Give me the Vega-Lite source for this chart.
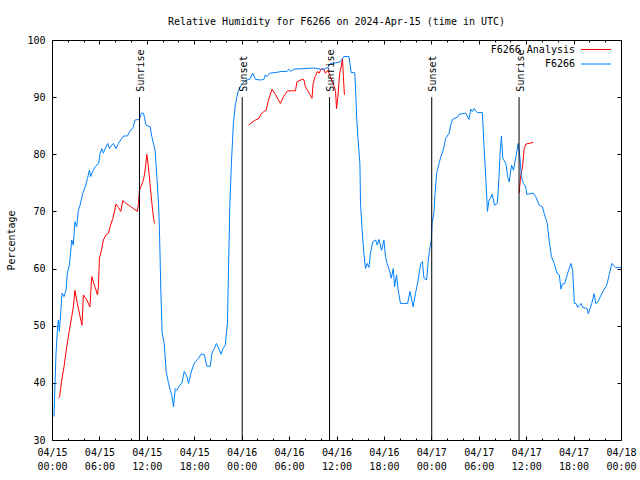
{
  "$schema": "https://vega.github.io/schema/vega-lite/v6.json",
  "width": 569,
  "height": 400,
  "autosize": {"type": "none"},
  "padding": {"left": 52, "top": 40, "right": 19, "bottom": 40},
  "background": "white",
  "title": {"text": "Relative Humidity for F6266 on 2024-Apr-15 (time in UTC)", "font": "DejaVu Sans Mono", "fontSize": 10, "fontWeight": "normal", "color": "black", "offset": 8, "anchor": "middle"},
  "config": {
    "view": {"stroke": "black", "strokeWidth": 1},
    "axis": {"labelFont": "DejaVu Sans Mono", "labelFontSize": 10, "labelColor": "black", "tickColor": "black", "tickWidth": 1, "domain": false, "grid": false, "titleFont": "DejaVu Sans Mono", "titleFontSize": 10, "titleFontWeight": "normal", "titleColor": "black"}
  },
  "datasets": {
    "obs": [
      {"s":"F6266 Analysis","g":"r1","h":0.8,"v":37.3},{"s":"F6266 Analysis","g":"r1","h":0.97,"v":37.6},{"s":"F6266 Analysis","g":"r1","h":1.23,"v":40.5},{"s":"F6266 Analysis","g":"r1","h":1.52,"v":42.8},{"s":"F6266 Analysis","g":"r1","h":1.86,"v":46.3},{"s":"F6266 Analysis","g":"r1","h":2.2,"v":49.2},{"s":"F6266 Analysis","g":"r1","h":2.5,"v":51.6},{"s":"F6266 Analysis","g":"r1","h":2.7,"v":53.3},{"s":"F6266 Analysis","g":"r1","h":2.9,"v":56.2},{"s":"F6266 Analysis","g":"r1","h":3.2,"v":53.9},{"s":"F6266 Analysis","g":"r1","h":3.55,"v":51.6},{"s":"F6266 Analysis","g":"r1","h":3.8,"v":50.1},{"s":"F6266 Analysis","g":"r1","h":3.97,"v":55.4},{"s":"F6266 Analysis","g":"r1","h":4.4,"v":54.5},{"s":"F6266 Analysis","g":"r1","h":4.8,"v":53.3},{"s":"F6266 Analysis","g":"r1","h":5.03,"v":58.6},{"s":"F6266 Analysis","g":"r1","h":5.3,"v":57.4},{"s":"F6266 Analysis","g":"r1","h":5.58,"v":56.2},{"s":"F6266 Analysis","g":"r1","h":5.75,"v":55.4},{"s":"F6266 Analysis","g":"r1","h":5.87,"v":56.8},{"s":"F6266 Analysis","g":"r1","h":6.0,"v":61.8},{"s":"F6266 Analysis","g":"r1","h":6.3,"v":63.5},{"s":"F6266 Analysis","g":"r1","h":6.5,"v":65.0},{"s":"F6266 Analysis","g":"r1","h":6.84,"v":65.9},{"s":"F6266 Analysis","g":"r1","h":7.14,"v":66.2},{"s":"F6266 Analysis","g":"r1","h":7.35,"v":67.3},{"s":"F6266 Analysis","g":"r1","h":7.7,"v":68.8},{"s":"F6266 Analysis","g":"r1","h":7.86,"v":69.7},{"s":"F6266 Analysis","g":"r1","h":8.1,"v":71.3},{"s":"F6266 Analysis","g":"r1","h":8.4,"v":70.7},{"s":"F6266 Analysis","g":"r1","h":8.7,"v":70.0},{"s":"F6266 Analysis","g":"r1","h":8.96,"v":71.9},{"s":"F6266 Analysis","g":"r1","h":9.4,"v":71.4},{"s":"F6266 Analysis","g":"r1","h":9.9,"v":70.9},{"s":"F6266 Analysis","g":"r1","h":10.3,"v":70.5},{"s":"F6266 Analysis","g":"r1","h":10.8,"v":70.0},{"s":"F6266 Analysis","g":"r1","h":10.94,"v":71.4},{"s":"F6266 Analysis","g":"r1","h":11.07,"v":73.7},{"s":"F6266 Analysis","g":"r1","h":11.24,"v":74.3},{"s":"F6266 Analysis","g":"r1","h":11.5,"v":75.2},{"s":"F6266 Analysis","g":"r1","h":11.66,"v":76.1},{"s":"F6266 Analysis","g":"r1","h":11.83,"v":77.8},{"s":"F6266 Analysis","g":"r1","h":12.0,"v":80.0},{"s":"F6266 Analysis","g":"r1","h":12.2,"v":77.8},{"s":"F6266 Analysis","g":"r1","h":12.4,"v":74.9},{"s":"F6266 Analysis","g":"r1","h":12.64,"v":71.4},{"s":"F6266 Analysis","g":"r1","h":12.85,"v":68.8},{"s":"F6266 Analysis","g":"r1","h":12.97,"v":67.9},
      {"s":"F6266 Analysis","g":"r2","h":24.9,"v":85.1},{"s":"F6266 Analysis","g":"r2","h":25.3,"v":85.6},{"s":"F6266 Analysis","g":"r2","h":25.75,"v":86.0},{"s":"F6266 Analysis","g":"r2","h":26.2,"v":86.3},{"s":"F6266 Analysis","g":"r2","h":26.4,"v":86.9},{"s":"F6266 Analysis","g":"r2","h":26.8,"v":87.5},{"s":"F6266 Analysis","g":"r2","h":27.1,"v":87.7},{"s":"F6266 Analysis","g":"r2","h":27.4,"v":89.5},{"s":"F6266 Analysis","g":"r2","h":27.85,"v":91.4},{"s":"F6266 Analysis","g":"r2","h":28.3,"v":90.4},{"s":"F6266 Analysis","g":"r2","h":28.9,"v":88.9},{"s":"F6266 Analysis","g":"r2","h":29.3,"v":90.1},{"s":"F6266 Analysis","g":"r2","h":29.8,"v":91.1},{"s":"F6266 Analysis","g":"r2","h":30.8,"v":91.1},{"s":"F6266 Analysis","g":"r2","h":31.0,"v":92.7},{"s":"F6266 Analysis","g":"r2","h":31.65,"v":93.1},{"s":"F6266 Analysis","g":"r2","h":31.86,"v":93.1},{"s":"F6266 Analysis","g":"r2","h":32.07,"v":91.8},{"s":"F6266 Analysis","g":"r2","h":32.37,"v":91.1},{"s":"F6266 Analysis","g":"r2","h":32.6,"v":90.5},{"s":"F6266 Analysis","g":"r2","h":32.9,"v":89.8},{"s":"F6266 Analysis","g":"r2","h":33.04,"v":92.4},{"s":"F6266 Analysis","g":"r2","h":33.3,"v":93.6},{"s":"F6266 Analysis","g":"r2","h":33.6,"v":94.5},{"s":"F6266 Analysis","g":"r2","h":33.8,"v":94.2},{"s":"F6266 Analysis","g":"r2","h":34.05,"v":94.9},{"s":"F6266 Analysis","g":"r2","h":34.4,"v":94.9},{"s":"F6266 Analysis","g":"r2","h":34.6,"v":94.2},{"s":"F6266 Analysis","g":"r2","h":34.9,"v":94.7},{"s":"F6266 Analysis","g":"r2","h":35.24,"v":93.6},{"s":"F6266 Analysis","g":"r2","h":35.45,"v":92.7},{"s":"F6266 Analysis","g":"r2","h":35.66,"v":92.1},{"s":"F6266 Analysis","g":"r2","h":35.88,"v":91.0},{"s":"F6266 Analysis","g":"r2","h":36.0,"v":88.0},{"s":"F6266 Analysis","g":"r2","h":36.18,"v":90.1},{"s":"F6266 Analysis","g":"r2","h":36.4,"v":94.2},{"s":"F6266 Analysis","g":"r2","h":36.6,"v":95.3},{"s":"F6266 Analysis","g":"r2","h":36.76,"v":96.8},{"s":"F6266 Analysis","g":"r2","h":36.87,"v":93.6},{"s":"F6266 Analysis","g":"r2","h":37.0,"v":90.4},
      {"s":"F6266 Analysis","g":"r3","h":59.1,"v":73.2},{"s":"F6266 Analysis","g":"r3","h":59.33,"v":76.4},{"s":"F6266 Analysis","g":"r3","h":59.54,"v":77.8},{"s":"F6266 Analysis","g":"r3","h":59.75,"v":81.0},{"s":"F6266 Analysis","g":"r3","h":59.96,"v":81.8},{"s":"F6266 Analysis","g":"r3","h":60.38,"v":81.9},{"s":"F6266 Analysis","g":"r3","h":60.9,"v":82.1},
      {"s":"F6266","g":"b","h":0.25,"v":34.1},{"s":"F6266","g":"b","h":0.5,"v":44.9},{"s":"F6266","g":"b","h":0.68,"v":49.2},{"s":"F6266","g":"b","h":0.8,"v":51.0},{"s":"F6266","g":"b","h":0.93,"v":49.0},{"s":"F6266","g":"b","h":1.1,"v":52.2},{"s":"F6266","g":"b","h":1.27,"v":55.7},{"s":"F6266","g":"b","h":1.52,"v":55.1},{"s":"F6266","g":"b","h":1.77,"v":56.2},{"s":"F6266","g":"b","h":1.94,"v":59.2},{"s":"F6266","g":"b","h":2.2,"v":60.6},{"s":"F6266","g":"b","h":2.5,"v":65.0},{"s":"F6266","g":"b","h":2.7,"v":64.1},{"s":"F6266","g":"b","h":2.9,"v":68.2},{"s":"F6266","g":"b","h":3.13,"v":67.3},{"s":"F6266","g":"b","h":3.34,"v":70.2},{"s":"F6266","g":"b","h":3.55,"v":71.1},{"s":"F6266","g":"b","h":3.9,"v":73.2},{"s":"F6266","g":"b","h":4.2,"v":74.3},{"s":"F6266","g":"b","h":4.5,"v":75.8},{"s":"F6266","g":"b","h":4.73,"v":77.2},{"s":"F6266","g":"b","h":4.9,"v":76.1},{"s":"F6266","g":"b","h":5.15,"v":77.0},{"s":"F6266","g":"b","h":5.45,"v":77.8},{"s":"F6266","g":"b","h":5.9,"v":78.4},{"s":"F6266","g":"b","h":6.1,"v":80.2},{"s":"F6266","g":"b","h":6.3,"v":81.0},{"s":"F6266","g":"b","h":6.5,"v":80.2},{"s":"F6266","g":"b","h":6.72,"v":81.0},{"s":"F6266","g":"b","h":7.05,"v":81.9},{"s":"F6266","g":"b","h":7.27,"v":81.0},{"s":"F6266","g":"b","h":7.56,"v":81.6},{"s":"F6266","g":"b","h":7.77,"v":81.9},{"s":"F6266","g":"b","h":8.1,"v":81.0},{"s":"F6266","g":"b","h":8.41,"v":81.9},{"s":"F6266","g":"b","h":8.83,"v":82.8},{"s":"F6266","g":"b","h":9.04,"v":83.2},{"s":"F6266","g":"b","h":9.55,"v":83.2},{"s":"F6266","g":"b","h":9.9,"v":84.2},{"s":"F6266","g":"b","h":10.22,"v":84.5},{"s":"F6266","g":"b","h":10.5,"v":86.0},{"s":"F6266","g":"b","h":11.07,"v":86.1},{"s":"F6266","g":"b","h":11.3,"v":87.2},{"s":"F6266","g":"b","h":11.58,"v":87.2},{"s":"F6266","g":"b","h":11.9,"v":85.1},{"s":"F6266","g":"b","h":12.42,"v":84.8},{"s":"F6266","g":"b","h":12.63,"v":83.1},{"s":"F6266","g":"b","h":13.05,"v":80.7},{"s":"F6266","g":"b","h":13.27,"v":76.1},{"s":"F6266","g":"b","h":13.48,"v":71.4},{"s":"F6266","g":"b","h":13.6,"v":66.7},{"s":"F6266","g":"b","h":13.77,"v":56.2},{"s":"F6266","g":"b","h":13.94,"v":48.7},{"s":"F6266","g":"b","h":14.2,"v":46.9},{"s":"F6266","g":"b","h":14.45,"v":42.0},{"s":"F6266","g":"b","h":14.75,"v":39.9},{"s":"F6266","g":"b","h":14.96,"v":38.7},{"s":"F6266","g":"b","h":15.17,"v":37.8},{"s":"F6266","g":"b","h":15.38,"v":35.8},{"s":"F6266","g":"b","h":15.59,"v":39.0},{"s":"F6266","g":"b","h":15.8,"v":38.7},{"s":"F6266","g":"b","h":16.14,"v":39.6},{"s":"F6266","g":"b","h":16.43,"v":39.9},{"s":"F6266","g":"b","h":16.73,"v":42.0},{"s":"F6266","g":"b","h":17.07,"v":41.1},{"s":"F6266","g":"b","h":17.28,"v":39.9},{"s":"F6266","g":"b","h":17.58,"v":41.7},{"s":"F6266","g":"b","h":17.83,"v":42.8},{"s":"F6266","g":"b","h":18.12,"v":43.7},{"s":"F6266","g":"b","h":18.55,"v":44.3},{"s":"F6266","g":"b","h":18.84,"v":45.0},{"s":"F6266","g":"b","h":19.26,"v":45.0},{"s":"F6266","g":"b","h":19.6,"v":42.9},{"s":"F6266","g":"b","h":20.02,"v":42.9},{"s":"F6266","g":"b","h":20.24,"v":45.2},{"s":"F6266","g":"b","h":20.53,"v":46.0},{"s":"F6266","g":"b","h":20.8,"v":46.9},{"s":"F6266","g":"b","h":21.1,"v":46.0},{"s":"F6266","g":"b","h":21.4,"v":45.0},{"s":"F6266","g":"b","h":21.63,"v":46.0},{"s":"F6266","g":"b","h":21.93,"v":46.6},{"s":"F6266","g":"b","h":22.1,"v":49.2},{"s":"F6266","g":"b","h":22.2,"v":50.4},{"s":"F6266","g":"b","h":22.35,"v":60.9},{"s":"F6266","g":"b","h":22.5,"v":70.8},{"s":"F6266","g":"b","h":22.7,"v":78.4},{"s":"F6266","g":"b","h":22.95,"v":85.4},{"s":"F6266","g":"b","h":23.2,"v":88.6},{"s":"F6266","g":"b","h":23.4,"v":90.1},{"s":"F6266","g":"b","h":23.6,"v":91.2},{"s":"F6266","g":"b","h":23.83,"v":91.8},{"s":"F6266","g":"b","h":24.1,"v":92.4},{"s":"F6266","g":"b","h":24.6,"v":93.0},{"s":"F6266","g":"b","h":25.0,"v":93.1},{"s":"F6266","g":"b","h":25.4,"v":94.2},{"s":"F6266","g":"b","h":25.75,"v":93.1},{"s":"F6266","g":"b","h":26.4,"v":93.0},{"s":"F6266","g":"b","h":26.8,"v":93.1},{"s":"F6266","g":"b","h":27.0,"v":93.9},{"s":"F6266","g":"b","h":27.2,"v":93.6},{"s":"F6266","g":"b","h":27.55,"v":94.2},{"s":"F6266","g":"b","h":28.25,"v":94.3},{"s":"F6266","g":"b","h":29.1,"v":94.5},{"s":"F6266","g":"b","h":29.75,"v":94.5},{"s":"F6266","g":"b","h":29.96,"v":94.9},{"s":"F6266","g":"b","h":30.2,"v":94.5},{"s":"F6266","g":"b","h":30.6,"v":94.9},{"s":"F6266","g":"b","h":31.86,"v":95.0},{"s":"F6266","g":"b","h":33.1,"v":95.1},{"s":"F6266","g":"b","h":33.97,"v":94.9},{"s":"F6266","g":"b","h":34.4,"v":94.9},{"s":"F6266","g":"b","h":34.9,"v":95.2},{"s":"F6266","g":"b","h":35.24,"v":95.9},{"s":"F6266","g":"b","h":35.88,"v":96.0},{"s":"F6266","g":"b","h":36.5,"v":96.2},{"s":"F6266","g":"b","h":36.93,"v":97.1},{"s":"F6266","g":"b","h":37.57,"v":97.1},{"s":"F6266","g":"b","h":37.86,"v":94.3},{"s":"F6266","g":"b","h":38.3,"v":94.3},{"s":"F6266","g":"b","h":38.4,"v":91.8},{"s":"F6266","g":"b","h":38.55,"v":86.6},{"s":"F6266","g":"b","h":38.7,"v":83.1},{"s":"F6266","g":"b","h":38.96,"v":78.4},{"s":"F6266","g":"b","h":39.04,"v":71.4},{"s":"F6266","g":"b","h":39.25,"v":66.7},{"s":"F6266","g":"b","h":39.46,"v":62.7},{"s":"F6266","g":"b","h":39.67,"v":60.0},{"s":"F6266","g":"b","h":39.88,"v":60.9},{"s":"F6266","g":"b","h":40.1,"v":60.2},{"s":"F6266","g":"b","h":40.3,"v":62.7},{"s":"F6266","g":"b","h":40.6,"v":64.7},{"s":"F6266","g":"b","h":40.95,"v":65.0},{"s":"F6266","g":"b","h":41.15,"v":64.1},{"s":"F6266","g":"b","h":41.37,"v":65.1},{"s":"F6266","g":"b","h":41.7,"v":63.2},{"s":"F6266","g":"b","h":42.0,"v":65.0},{"s":"F6266","g":"b","h":42.2,"v":62.1},{"s":"F6266","g":"b","h":42.4,"v":60.9},{"s":"F6266","g":"b","h":42.7,"v":59.7},{"s":"F6266","g":"b","h":42.93,"v":58.3},{"s":"F6266","g":"b","h":43.18,"v":60.0},{"s":"F6266","g":"b","h":43.35,"v":56.8},{"s":"F6266","g":"b","h":43.6,"v":58.9},{"s":"F6266","g":"b","h":43.8,"v":56.2},{"s":"F6266","g":"b","h":44.1,"v":53.9},{"s":"F6266","g":"b","h":45.0,"v":53.9},{"s":"F6266","g":"b","h":45.3,"v":56.0},{"s":"F6266","g":"b","h":45.7,"v":53.3},{"s":"F6266","g":"b","h":46.0,"v":55.7},{"s":"F6266","g":"b","h":46.3,"v":57.7},{"s":"F6266","g":"b","h":46.65,"v":60.9},{"s":"F6266","g":"b","h":46.86,"v":61.2},{"s":"F6266","g":"b","h":47.07,"v":58.3},{"s":"F6266","g":"b","h":47.4,"v":58.0},{"s":"F6266","g":"b","h":47.58,"v":60.9},{"s":"F6266","g":"b","h":47.75,"v":63.0},{"s":"F6266","g":"b","h":48.0,"v":65.0},{"s":"F6266","g":"b","h":48.1,"v":67.9},{"s":"F6266","g":"b","h":48.34,"v":70.0},{"s":"F6266","g":"b","h":48.47,"v":73.2},{"s":"F6266","g":"b","h":48.68,"v":76.7},{"s":"F6266","g":"b","h":48.98,"v":78.4},{"s":"F6266","g":"b","h":49.2,"v":79.6},{"s":"F6266","g":"b","h":49.5,"v":80.7},{"s":"F6266","g":"b","h":49.82,"v":82.8},{"s":"F6266","g":"b","h":50.25,"v":83.7},{"s":"F6266","g":"b","h":50.45,"v":85.1},{"s":"F6266","g":"b","h":50.67,"v":86.1},{"s":"F6266","g":"b","h":51.3,"v":86.5},{"s":"F6266","g":"b","h":51.5,"v":87.0},{"s":"F6266","g":"b","h":52.35,"v":87.2},{"s":"F6266","g":"b","h":52.77,"v":86.1},{"s":"F6266","g":"b","h":53.0,"v":87.9},{"s":"F6266","g":"b","h":53.2,"v":87.5},{"s":"F6266","g":"b","h":53.4,"v":88.0},{"s":"F6266","g":"b","h":53.8,"v":87.3},{"s":"F6266","g":"b","h":54.45,"v":87.3},{"s":"F6266","g":"b","h":54.66,"v":81.6},{"s":"F6266","g":"b","h":54.88,"v":76.1},{"s":"F6266","g":"b","h":55.1,"v":70.0},{"s":"F6266","g":"b","h":55.3,"v":72.0},{"s":"F6266","g":"b","h":55.5,"v":72.3},{"s":"F6266","g":"b","h":55.7,"v":73.0},{"s":"F6266","g":"b","h":56.0,"v":71.1},{"s":"F6266","g":"b","h":56.35,"v":71.4},{"s":"F6266","g":"b","h":56.57,"v":76.1},{"s":"F6266","g":"b","h":56.7,"v":80.2},{"s":"F6266","g":"b","h":56.87,"v":83.2},{"s":"F6266","g":"b","h":57.05,"v":79.3},{"s":"F6266","g":"b","h":57.43,"v":78.4},{"s":"F6266","g":"b","h":57.65,"v":76.1},{"s":"F6266","g":"b","h":57.86,"v":75.2},{"s":"F6266","g":"b","h":58.15,"v":78.1},{"s":"F6266","g":"b","h":58.4,"v":77.2},{"s":"F6266","g":"b","h":58.7,"v":79.6},{"s":"F6266","g":"b","h":59.0,"v":81.9},{"s":"F6266","g":"b","h":59.2,"v":79.6},{"s":"F6266","g":"b","h":59.4,"v":76.1},{"s":"F6266","g":"b","h":59.65,"v":74.9},{"s":"F6266","g":"b","h":59.95,"v":74.3},{"s":"F6266","g":"b","h":60.08,"v":73.0},{"s":"F6266","g":"b","h":60.9,"v":73.2},{"s":"F6266","g":"b","h":61.2,"v":72.6},{"s":"F6266","g":"b","h":61.64,"v":71.1},{"s":"F6266","g":"b","h":62.05,"v":70.8},{"s":"F6266","g":"b","h":62.33,"v":69.4},{"s":"F6266","g":"b","h":62.67,"v":67.9},{"s":"F6266","g":"b","h":62.9,"v":65.0},{"s":"F6266","g":"b","h":63.2,"v":62.1},{"s":"F6266","g":"b","h":63.55,"v":60.9},{"s":"F6266","g":"b","h":63.9,"v":59.2},{"s":"F6266","g":"b","h":64.2,"v":58.9},{"s":"F6266","g":"b","h":64.4,"v":56.4},{"s":"F6266","g":"b","h":64.6,"v":57.3},{"s":"F6266","g":"b","h":64.9,"v":57.4},{"s":"F6266","g":"b","h":65.25,"v":59.2},{"s":"F6266","g":"b","h":65.67,"v":60.9},{"s":"F6266","g":"b","h":65.88,"v":59.7},{"s":"F6266","g":"b","h":66.1,"v":53.9},{"s":"F6266","g":"b","h":66.3,"v":53.9},{"s":"F6266","g":"b","h":66.52,"v":53.2},{"s":"F6266","g":"b","h":66.95,"v":53.9},{"s":"F6266","g":"b","h":67.15,"v":53.2},{"s":"F6266","g":"b","h":67.7,"v":53.0},{"s":"F6266","g":"b","h":67.86,"v":52.1},{"s":"F6266","g":"b","h":68.3,"v":53.9},{"s":"F6266","g":"b","h":68.6,"v":55.6},{"s":"F6266","g":"b","h":68.8,"v":53.9},{"s":"F6266","g":"b","h":69.1,"v":54.2},{"s":"F6266","g":"b","h":69.4,"v":55.1},{"s":"F6266","g":"b","h":69.8,"v":56.2},{"s":"F6266","g":"b","h":70.2,"v":57.1},{"s":"F6266","g":"b","h":70.55,"v":59.2},{"s":"F6266","g":"b","h":70.85,"v":60.9},{"s":"F6266","g":"b","h":71.27,"v":60.2},{"s":"F6266","g":"b","h":72.0,"v":60.2}
    ],
    "events": [
      {"h": 11.07, "e": "Sunrise"},
      {"h": 24.07, "e": "Sunset"},
      {"h": 35.12, "e": "Sunrise"},
      {"h": 48.05, "e": "Sunset"},
      {"h": 59.1, "e": "Sunrise"}
    ]
  },
  "layer": [
    {
      "data": {"name": "obs"},
      "mark": {"type": "line", "strokeWidth": 1, "clip": true},
      "encoding": {
        "x": {"field": "h", "type": "quantitative", "scale": {"domain": [0, 72], "nice": false, "zero": false},
          "axis": {"orient": "bottom", "title": null, "values": [0,2,4,6,8,10,12,14,16,18,20,22,24,26,28,30,32,34,36,38,40,42,44,46,48,50,52,54,56,58,60,62,64,66,68,70,72],
            "tickSize": {"condition": {"test": "datum.value % 6 === 0", "value": -4}, "value": -2},
            "labelExpr": "datum.value % 6 === 0 ? ['04/' + (15 + floor(datum.value / 24)), (datum.value % 24 < 10 ? '0' : '') + (datum.value % 24) + ':00'] : ''",
            "labelOverlap": false, "labelFlush": false, "labelPadding": 11, "labelLineHeight": 14, "labelBaseline": "top"}},
        "y": {"field": "v", "type": "quantitative", "scale": {"domain": [30, 100], "nice": false, "zero": false},
          "axis": {"orient": "left", "values": [30,40,50,60,70,80,90,100], "tickSize": -4, "labelPadding": 11, "labelFlush": false, "labelOverlap": false,
            "title": "Percentage", "titleX": -41, "titleY": 200, "titleAngle": 270, "titleBaseline": "middle", "titleAlign": "center"}},
        "color": {"field": "s", "type": "nominal", "scale": {"domain": ["F6266 Analysis", "F6266"], "range": ["#ff0000", "#0080ff"]},
          "legend": {"orient": "none", "legendX": 538.5, "legendY": 4, "title": null, "symbolType": "M-3,0H3", "symbolSize": 100, "symbolStrokeWidth": 1, "labelAlign": "right", "labelOffset": -26.5, "labelFont": "DejaVu Sans Mono", "labelFontSize": 10, "labelColor": "black", "rowPadding": 3.5, "padding": 0}},
        "detail": {"field": "g", "type": "nominal"}
      }
    },
    {
      "data": {"name": "events"},
      "mark": {"type": "rule", "color": "black", "strokeWidth": 1},
      "encoding": {
        "x": {"field": "h", "type": "quantitative",
          "axis": {"orient": "top", "title": null, "labels": false, "values": [0,2,4,6,8,10,12,14,16,18,20,22,24,26,28,30,32,34,36,38,40,42,44,46,48,50,52,54,56,58,60,62,64,66,68,70,72],
            "tickSize": {"condition": {"test": "datum.value % 6 === 0", "value": -4}, "value": -2}}},
        "y": {"datum": 30, "type": "quantitative", "axis": {"orient": "right", "title": null, "labels": false, "values": [30,40,50,60,70,80,90,100], "tickSize": -4}},
        "y2": {"datum": 90}
      }
    },
    {
      "data": {"name": "events"},
      "mark": {"type": "text", "angle": 270, "align": "left", "baseline": "alphabetic", "dx": 5.5, "dy": 4.5, "font": "DejaVu Sans Mono", "fontSize": 10, "color": "black"},
      "encoding": {
        "x": {"field": "h", "type": "quantitative", "axis": null},
        "y": {"datum": 90, "type": "quantitative", "axis": null},
        "text": {"field": "e", "type": "nominal"}
      }
    }
  ],
  "resolve": {"axis": {"x": "independent", "y": "independent"}}
}
